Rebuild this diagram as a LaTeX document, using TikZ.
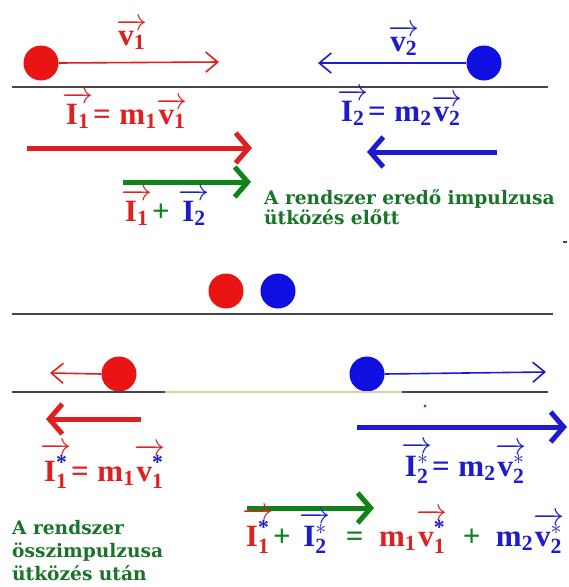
\RequirePackage{fix-cm}
\documentclass[tikz,border=0pt]{standalone}
\usepackage{amsmath}
\usepackage{fontspec}
\setmainfont{Liberation Serif}
\newfontfamily\gfont{DejaVu Serif}
\usetikzlibrary{arrows.meta}
\definecolor{redT}{RGB}{222,32,32}
\definecolor{blueT}{RGB}{28,28,205}
\definecolor{greenT}{RGB}{25,115,40}
\definecolor{greenA}{RGB}{15,130,25}
\definecolor{redB}{RGB}{235,20,20}
\definecolor{blueB}{RGB}{15,15,225}
\definecolor{lineD}{RGB}{70,70,70}
\definecolor{lineL}{RGB}{215,210,165}
\newcommand\vv[1]{\overrightarrow{#1}}
\newcommand\tx[1]{\text{#1}}
\newcommand\bst{\textcolor{blueT}{\tx{*}}}
\begin{document}
\begin{tikzpicture}[x=1pt,y=-1pt,
  thinarrow/.style={line width=1.6pt,-{Straight Barb[length=12pt,width=20pt,line width=1.6pt]}},
  thickarrow/.style={line width=5pt,-{Straight Barb[length=13pt,width=30pt,line width=5pt]}},
  ball/.style={circle,minimum size=35pt,inner sep=0pt,draw=none},
  ground/.style={line width=1.4pt},
  lbl/.style={font=\fontsize{31}{35}\selectfont\bfseries,inner sep=0pt,anchor=base west},
  gtxt/.style={font=\gfont\bfseries\fontsize{18.6}{22}\selectfont,text=greenT,inner sep=0pt,anchor=base west}]
\useasboundingbox (0,0) rectangle (569,587);
\fill[white] (0,0) rectangle (569,587);

% ---------- before collision ----------
\node[ball,fill=redB] (b1) at (41,63) {};
\node[ball,fill=blueB] (b2) at (484,63) {};
\coordinate (v1e) at (219,62);
\coordinate (v2e) at (318,63);
\draw[thinarrow,redT] (b1.east) -- (v1e);
\draw[thinarrow,blueT] (b2.west) -- (v2e);
\node[lbl,text=redT] (v1l) at (116,45) {$\vv{\tx{v}_{\tx{1}}}$};
\node[lbl,text=blueT] (v2l) at (388,51) {$\vv{\tx{v}_{\tx{2}}}$};

\coordinate (g1a) at (12,87);
\coordinate (g1b) at (548,87);
\draw[ground,lineD] (g1a) -- (g1b);

\node[lbl,text=redT] (I1l) at (62,124) {$\vv{\tx{I}_{\tx{1}}}\tx{=}\;\tx{m}_{\tx{1}}\vv{\tx{v}_{\tx{1}}}$};
\node[lbl,text=blueT] (I2l) at (337,121) {$\vv{\tx{I}_{\tx{2}}}\tx{=}\;\tx{m}_{\tx{2}}\vv{\tx{v}_{\tx{2}}}$};

\coordinate (r1a) at (27,148);
\coordinate (r1b) at (252,148);
\draw[thickarrow,redT] (r1a) -- (r1b);
\coordinate (bl1a) at (497,152);
\coordinate (bl1b) at (367,152);
\draw[thickarrow,blueT] (bl1a) -- (bl1b);
\coordinate (gr1a) at (123,182);
\coordinate (gr1b) at (251,182);
\draw[thickarrow,greenA] (gr1a) -- (gr1b);

\node[lbl] (sum1) at (121,221) {$\textcolor{redT}{\vv{\tx{I}_{\tx{1}}}}\textcolor{greenA}{\tx{+}}\;\textcolor{blueT}{\vv{\tx{I}_{\tx{2}}}}$};
\node[gtxt] (t1a) at (264,204) {A rendszer eredő impulzusa};
\node[gtxt] (t1b) at (264,224) {ütközés előtt};
\fill[lineD] (563,241) rectangle (567,243);

% ---------- collision ----------
\node[ball,fill=redB] (b3) at (226,291) {};
\node[ball,fill=blueB] (b4) at (278,291) {};
\coordinate (g2a) at (12,314);
\coordinate (g2b) at (553,314);
\draw[ground,lineD] (g2a) -- (g2b);

% ---------- after collision ----------
\node[ball,fill=redB] (b5) at (119,374) {};
\node[ball,fill=blueB] (b6) at (367,374) {};
\coordinate (v3e) at (50,373);
\coordinate (v4e) at (546,372);
\draw[thinarrow,redT] (b5.west) -- (v3e);
\draw[thinarrow,blueT] (b6.east) -- (v4e);

\coordinate (g3a) at (12,392);
\coordinate (g3b) at (165,392);
\coordinate (g3c) at (402,392);
\coordinate (g3d) at (548,392);
\draw[ground,lineD] (g3a) -- (g3b);
\draw[ground,lineL] (g3b) -- (g3c);
\draw[ground,lineD] (g3c) -- (g3d);
\fill[greenA] (425,406) circle (1.6);

\coordinate (r2a) at (141,419);
\coordinate (r2b) at (46,419);
\draw[thickarrow,redT] (r2a) -- (r2b);
\coordinate (bl2a) at (357,427);
\coordinate (bl2b) at (567,427);
\draw[thickarrow,blueT] (bl2a) -- (bl2b);

\node[lbl,text=redT] (I1s) at (40,481) {$\vv{\tx{I}^{\bst}_{\tx{1}}}\tx{=}\;\tx{m}_{\tx{1}}\vv{\tx{v}^{\bst}_{\tx{1}}}$};
\node[lbl,text=blueT] (I2s) at (401,476) {$\vv{\tx{I}^{*}_{\tx{2}}}\tx{=}\;\tx{m}_{\tx{2}}\vv{\tx{v}^{*}_{\tx{2}}}$};

\coordinate (gr2a) at (247,508);
\coordinate (gr2b) at (374,508);
\draw[thickarrow,greenA] (gr2a) -- (gr2b);

\node[lbl] (sum2) at (242,546) {$\textcolor{redT}{\vv{\tx{I}^{\bst}_{\tx{1}}}}\textcolor{greenA}{\tx{+}}\;\textcolor{blueT}{\vv{\tx{I}^{*}_{\tx{2}}}}\ \ \textcolor{greenA}{\tx{=}}\ \ \textcolor{redT}{\tx{m}_{\tx{1}}\vv{\tx{v}^{\bst}_{\tx{1}}}}\ \ \textcolor{greenA}{\tx{+}}\ \ \textcolor{blueT}{\tx{m}_{\tx{2}}\vv{\tx{v}^{*}_{\tx{2}}}}$};

\node[gtxt] (t2a) at (12,534) {A rendszer};
\node[gtxt] (t2b) at (12,557) {összimpulzusa};
\node[gtxt] (t2c) at (12,580) {ütközés után};
\end{tikzpicture}
\end{document}
